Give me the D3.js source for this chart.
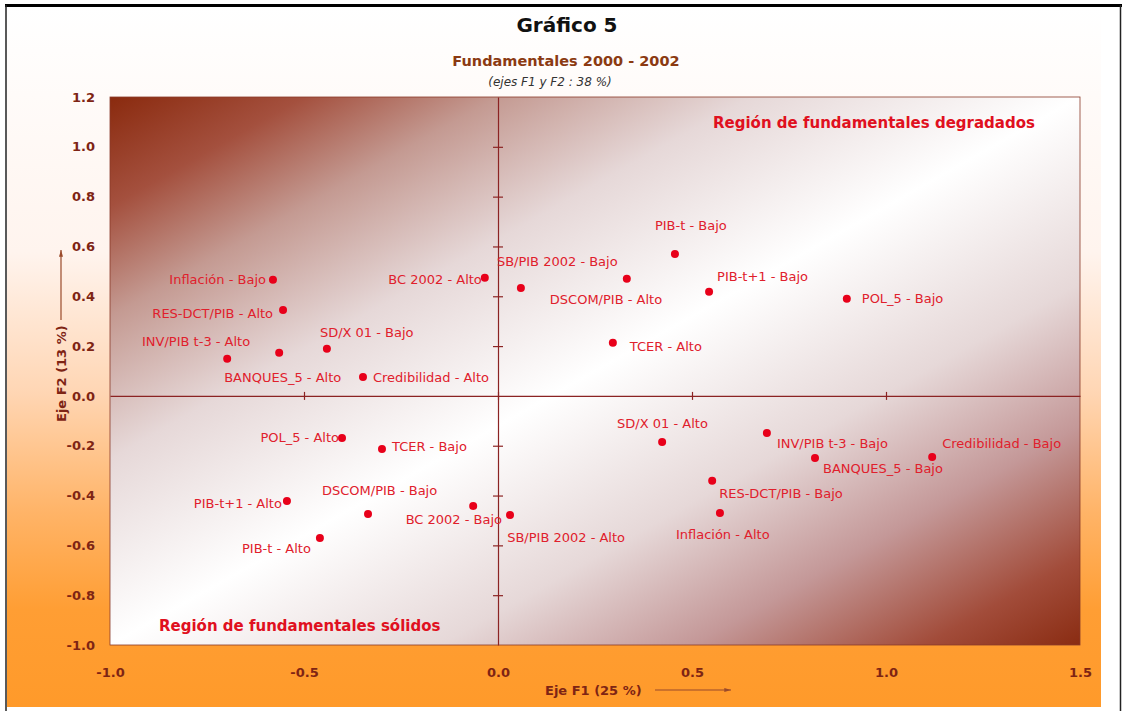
<!DOCTYPE html>
<html>
<head>
<meta charset="utf-8">
<script src="https://cdn.jsdelivr.net/npm/d3@7/dist/d3.min.js"></script>
<style>
  html, body { margin: 0; padding: 0; background: #ffffff; }
  svg { display: block; }
</style>
</head>
<body>
<svg id="chart" width="1128" height="711"></svg>
<script>
// ---------------- DATA ----------------
const pointLabels = [
  "Inflación - Bajo", "RES-DCT/PIB - Alto", "INV/PIB t-3 - Alto", "BANQUES_5 - Alto",
  "Credibilidad - Alto", "SD/X 01 - Bajo", "BC 2002 - Alto", "SB/PIB 2002 - Bajo",
  "DSCOM/PIB - Alto", "PIB-t - Bajo", "PIB-t+1 - Bajo", "POL_5 - Bajo", "TCER - Alto",
  "POL_5 - Alto", "TCER - Bajo", "DSCOM/PIB - Bajo", "PIB-t+1 - Alto", "PIB-t - Alto",
  "BC 2002 - Bajo", "SB/PIB 2002 - Alto", "SD/X 01 - Alto", "INV/PIB t-3 - Bajo",
  "BANQUES_5 - Bajo", "Credibilidad - Bajo", "RES-DCT/PIB - Bajo", "Inflación - Alto"
];
const f1Values = [
  -0.580, -0.554, -0.698, -0.564, -0.348, -0.441, -0.034, 0.059,
  0.332, 0.456, 0.544, 0.899, 0.296,
  -0.402, -0.299, -0.335, -0.544, -0.459,
  0.031, -0.064, 0.423, 0.693, 0.817, 1.119, 0.552, 0.572
];
const f2Values = [
  0.466, 0.345, 0.149, 0.173, 0.076, 0.189, 0.474, 0.433,
  0.470, 0.570, 0.418, 0.390, 0.213,
  -0.169, -0.213, -0.474, -0.422, -0.570,
  -0.478, -0.442, -0.185, -0.149, -0.249, -0.245, -0.341, -0.470
];
const xTicks = [-1.0, -0.5, 0.0, 0.5, 1.0, 1.5];
const yTicks = [-1.0, -0.8, -0.6, -0.4, -0.2, 0.0, 0.2, 0.4, 0.6, 0.8, 1.0, 1.2];
const titleText = "Gráfico 5";
const subtitleText = "Fundamentales 2000 - 2002";
const noteText = "(ejes F1 y F2 : 38 %)";
const xTitle = "Eje F1 (25 %)";
const yTitle = "Eje F2 (13 %)";
const regionTop = "Región de fundamentales degradados";
const regionBottom = "Región de fundamentales sólidos";

// ---------------- LAYOUT ----------------
const W = 1128, H = 711;
const plot = { left: 110, right: 1080, top: 97, bottom: 645 };
// label placement relative to each point: [anchor, dx, dy(center)]
const placement = [
  ["end", -7, 0], ["end", -10, 3], ["end", 23, -17], ["start", -55, 25],
  ["start", 10, 0], ["start", -7, -16], ["end", -3, 2], ["start", -24, -27],
  ["start", -77, 21], ["start", -20, -29], ["start", 8, -15], ["start", 15, 0], ["start", 17, 4],
  ["end", -3, -1], ["start", 10, -3], ["start", -46, -24], ["end", -5, 2], ["end", -9, 11],
  ["end", -8, 4], ["start", 34, 31], ["start", -45, -19], ["start", 10, 10],
  ["start", 8, 10], ["start", 10, -14], ["start", 7, 13], ["start", -44, 21]
];
const fmt = d => d.toFixed(1);

const svg = d3.select("#chart");
const defs = svg.append("defs");

const bg = defs.append("linearGradient").attr("id", "bgGrad")
  .attr("x1", 0).attr("y1", 0).attr("x2", 0).attr("y2", 1);
[[0, "#ffffff"], [0.35, "#fff4ee"], [0.55, "#ffd6b4"], [0.72, "#ffb468"], [0.86, "#ff9e34"], [1, "#ff9a2a"]]
  .forEach(([o, c]) => bg.append("stop").attr("offset", o).attr("stop-color", c));

const pg = defs.append("linearGradient").attr("id", "plotGrad")
  .attr("x1", 0).attr("y1", 0).attr("x2", 1).attr("y2", 1);
[[0, "#8a2a0e"], [0.1, "#a4503e"], [0.2, "#c49a92"], [0.33, "#e6d8d8"], [0.5, "#ffffff"],
 [0.67, "#e6d8d8"], [0.8, "#c49898"], [0.92, "#a24c3a"], [1, "#8a2c12"]]
  .forEach(([o, c]) => pg.append("stop").attr("offset", o).attr("stop-color", c));

const mk = defs.append("marker").attr("id", "arrow").attr("viewBox", "0 0 10 6")
  .attr("refX", 10).attr("refY", 3).attr("markerWidth", 10).attr("markerHeight", 4)
  .attr("markerUnits", "userSpaceOnUse").attr("orient", "auto");
mk.append("path").attr("d", "M0,0 L10,3 L0,6 Z").attr("fill", "#9a4a2a");

// figure background
svg.append("rect").attr("x", 7).attr("y", 7).attr("width", 1094).attr("height", 700)
  .attr("fill", "url(#bgGrad)");
// frame
svg.append("line").attr("x1", 5).attr("x2", 1122).attr("y1", 5.5).attr("y2", 5.5)
  .attr("stroke", "#000").attr("stroke-width", 3);
svg.append("line").attr("x1", 6).attr("x2", 6).attr("y1", 5).attr("y2", 711)
  .attr("stroke", "#222").attr("stroke-width", 1.5);
svg.append("line").attr("x1", 1120.5).attr("x2", 1120.5).attr("y1", 5).attr("y2", 711)
  .attr("stroke", "#222").attr("stroke-width", 1.5);

const x = d3.scaleLinear().domain([-1.0, 1.5]).range([plot.left, plot.right]);
const y = d3.scaleLinear().domain([-1.0, 1.2]).range([plot.bottom, plot.top]);

// plot area
svg.append("rect").attr("x", plot.left).attr("y", plot.top)
  .attr("width", plot.right - plot.left).attr("height", plot.bottom - plot.top)
  .attr("fill", "url(#plotGrad)").attr("stroke", "#8b3a2a").attr("stroke-width", 0.8);

// zero axes with crossing ticks
const axisColor = "#8b2323";
const gx0 = svg.append("g").attr("transform", `translate(0,${y(0)})`)
  .call(d3.axisBottom(x).tickValues(xTicks.filter(v => v > -1 && v < 1.5)).tickSize(5).tickSizeOuter(0).tickFormat(""));
const gy0 = svg.append("g").attr("transform", `translate(${x(0)},0)`)
  .call(d3.axisRight(y).tickValues(yTicks.filter(v => v !== 0 && v > -1 && v < 1.2)).tickSize(5).tickSizeOuter(0).tickFormat(""));
[gx0, gy0].forEach(g => {
  g.select(".domain").attr("stroke", axisColor).attr("stroke-width", 1.2);
  g.selectAll(".tick line").attr("stroke", axisColor).attr("stroke-width", 1.2);
});
gx0.selectAll(".tick line").attr("y1", -4).attr("y2", 4);
gy0.selectAll(".tick line").attr("x1", -5).attr("x2", 5);

// tick labels via axes (no lines)
const tickColor = "#7e2414";
const gxl = svg.append("g").attr("transform", `translate(0,${plot.bottom})`)
  .call(d3.axisBottom(x).tickValues(xTicks).tickSize(0).tickPadding(23).tickFormat(fmt));
const gyl = svg.append("g").attr("transform", `translate(${plot.left},0)`)
  .call(d3.axisLeft(y).tickValues(yTicks).tickSize(0).tickPadding(15).tickFormat(fmt));
[gxl, gyl].forEach(g => {
  g.select(".domain").remove();
  g.selectAll("text").attr("fill", tickColor).attr("font-family", "DejaVu Sans")
    .attr("font-weight", "bold").attr("font-size", 13);
});

// region labels
svg.append("text").attr("x", 713).attr("y", 128).text(regionTop)
  .attr("font-family", "DejaVu Sans").attr("font-weight", "bold").attr("font-size", 15).attr("fill", "#e01020");
svg.append("text").attr("x", 159).attr("y", 631).text(regionBottom)
  .attr("font-family", "DejaVu Sans").attr("font-weight", "bold").attr("font-size", 15).attr("fill", "#e01020");

// points & labels
const data = pointLabels.map((name, i) => ({ name, f1: f1Values[i], f2: f2Values[i], p: placement[i] }));
svg.append("g").selectAll("circle").data(data).join("circle")
  .attr("cx", d => x(d.f1)).attr("cy", d => y(d.f2)).attr("r", 4).attr("fill", "#e8001a");
svg.append("g").selectAll("text").data(data).join("text")
  .attr("x", d => x(d.f1) + d.p[1]).attr("y", d => y(d.f2) + d.p[2] + 4.6)
  .attr("text-anchor", d => d.p[0])
  .attr("font-family", "DejaVu Sans").attr("font-size", 13).attr("fill", "#e0202c")
  .text(d => d.name);

// titles
svg.append("text").attr("x", 567).attr("y", 32).attr("text-anchor", "middle").text(titleText)
  .attr("font-family", "DejaVu Sans").attr("font-weight", "bold").attr("font-size", 20).attr("fill", "#111");
svg.append("text").attr("x", 566).attr("y", 66).attr("text-anchor", "middle").text(subtitleText)
  .attr("font-family", "DejaVu Sans").attr("font-weight", "bold").attr("font-size", 14.5).attr("fill", "#8b3a12");
svg.append("text").attr("x", 550).attr("y", 86).attr("text-anchor", "middle").text(noteText)
  .attr("font-family", "DejaVu Sans").attr("font-style", "italic").attr("font-size", 12).attr("fill", "#333");

// axis titles
svg.append("text").attr("x", 545).attr("y", 695).text(xTitle)
  .attr("font-family", "DejaVu Sans").attr("font-weight", "bold").attr("font-size", 13).attr("fill", "#7e2414");
svg.append("line").attr("x1", 655).attr("x2", 731).attr("y1", 690).attr("y2", 690)
  .attr("stroke", "#9a4a2a").attr("stroke-width", 1.2).attr("marker-end", "url(#arrow)");
svg.append("text").attr("transform", `translate(66,422) rotate(-90)`).text(yTitle)
  .attr("font-family", "DejaVu Sans").attr("font-weight", "bold").attr("font-size", 13).attr("fill", "#7e2414");
svg.append("line").attr("x1", 61).attr("x2", 61).attr("y1", 320).attr("y2", 250)
  .attr("stroke", "#9a4a2a").attr("stroke-width", 1.2).attr("marker-end", "url(#arrow)");
</script>
</body>
</html>
